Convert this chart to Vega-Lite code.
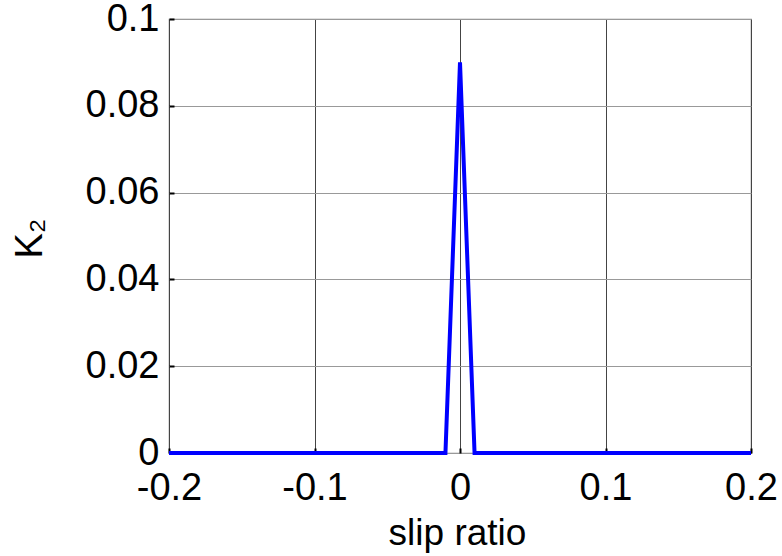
{
  "$schema": "https://vega.github.io/schema/vega-lite/v6.json",
  "autosize": {"type": "none"},
  "width": 582,
  "height": 434,
  "padding": {"left": 169, "top": 19, "right": 31, "bottom": 103},
  "background": "white",
  "config": {
    "font": "Liberation Sans",
    "view": {"stroke": "#888888", "strokeWidth": 1.2}
  },
  "data": {
    "values": [
      {"slip": -0.2, "K2": 0},
      {"slip": -0.01, "K2": 0},
      {"slip": 0.0, "K2": 0.09},
      {"slip": 0.01, "K2": 0},
      {"slip": 0.2, "K2": 0}
    ]
  },
  "mark": {"type": "line", "color": "#0000ff", "strokeWidth": 4, "clip": false},
  "encoding": {
    "x": {
      "field": "slip",
      "type": "quantitative",
      "scale": {"domain": [-0.2, 0.2], "nice": false, "zero": false},
      "axis": {
        "values": [-0.2, -0.1, 0, 0.1, 0.2],
        "format": "~g",
        "labelExpr": "replace(datum.label, '−', '-')",
        "labelFontSize": 38,
        "labelColor": "black",
        "labelPadding": 21,
        "labelFlush": false,
        "labelOverlap": false,
        "domain": false,
        "ticks": true,
        "tickSize": -5,
        "tickWidth": 2,
        "tickColor": "black",
        "grid": true,
        "gridColor": "#444444",
        "gridWidth": 1,
        "title": "slip ratio",
        "titleFontSize": 37,
        "titleFontWeight": "normal",
        "titleColor": "black",
        "titleBaseline": "alphabetic",
        "titleY": 91,
        "titleX": 288
      }
    },
    "y": {
      "field": "K2",
      "type": "quantitative",
      "scale": {"domain": [0, 0.1], "nice": false},
      "axis": {
        "values": [0, 0.02, 0.04, 0.06, 0.08, 0.1],
        "format": "~g",
        "labelFontSize": 38,
        "labelColor": "black",
        "labelPadding": 15,
        "labelFlush": false,
        "labelOverlap": false,
        "domain": false,
        "ticks": true,
        "tickSize": -5,
        "tickWidth": 2,
        "tickColor": "black",
        "grid": true,
        "gridColor": "#999999",
        "gridWidth": 1,
        "title": "K₂",
        "titleFontSize": 38,
        "titleFontWeight": "normal",
        "titleColor": "black",
        "titleAngle": -90,
        "titleBaseline": "middle",
        "titleAlign": "center",
        "titleX": -139,
        "titleY": 219
      }
    }
  }
}
